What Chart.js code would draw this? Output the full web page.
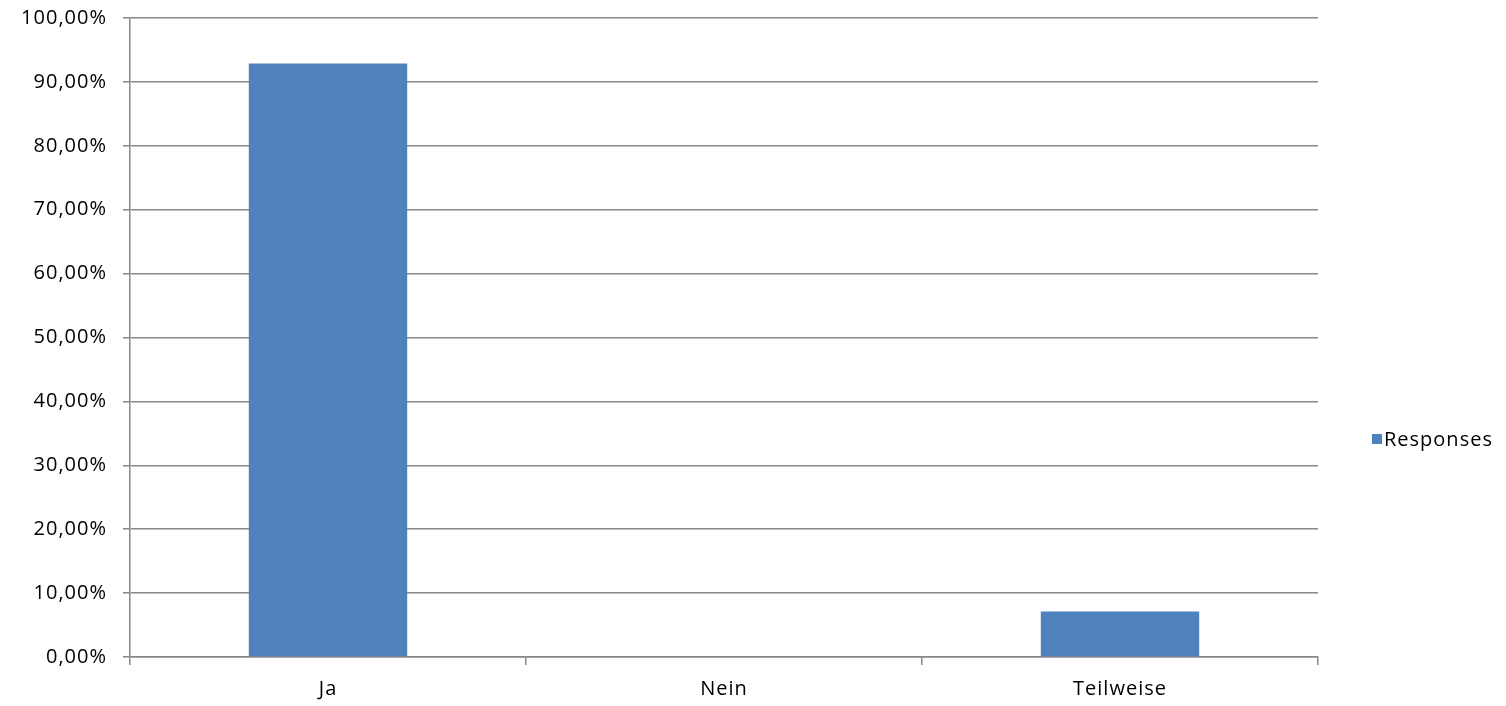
<!DOCTYPE html>
<html>
<head>
<meta charset="utf-8">
<script src="https://cdn.jsdelivr.net/npm/chart.js@4.4.1/dist/chart.umd.min.js"></script>
<style>
  html, body { margin: 0; padding: 0; background: #ffffff; }
  #wrap { width: 1506px; height: 706px; }
</style>
</head>
<body>
<div id="wrap"><canvas id="responsesChart" width="1506" height="706"></canvas></div>
<script>
// Chart data
var categories = ['Ja', 'Nein', 'Teilweise'];
var responses = [92.86, 0, 7.14];
var seriesLabel = 'Responses';
var yTicks = { min: 0, max: 100, step: 10 };

var barColor = '#4F81BD';
var gridColor = '#888888';
var fontFamily = '"Open Sans", "Liberation Sans", sans-serif';
var fontSize = 20;
var spacing = '1px';

// the original text is set a little loose
var textSpacing = {
    id: 'textSpacing',
    beforeLayout: function (chart) { chart.ctx.letterSpacing = spacing; },
    beforeDraw: function (chart) { chart.ctx.letterSpacing = spacing; }
};

// Legend drawn on the right, like the original spreadsheet chart
var sideLegend = {
    id: 'sideLegend',
    afterDraw: function (chart) {
        var ctx = chart.ctx;
        var ds = chart.data.datasets[0];
        ctx.save();
        ctx.fillStyle = ds.backgroundColor;
        ctx.fillRect(1372, 434, 10, 10);
        ctx.fillStyle = '#000000';
        ctx.font = fontSize + 'px ' + fontFamily;
        ctx.letterSpacing = spacing;
        ctx.textBaseline = 'middle';
        ctx.textAlign = 'left';
        ctx.fillText(ds.label, 1384, 440);
        ctx.restore();
    }
};

new Chart(document.getElementById('responsesChart'), {
    type: 'bar',
    data: {
        labels: categories,
        datasets: [{
            label: seriesLabel,
            data: responses,
            backgroundColor: barColor,
            borderWidth: 0,
            categoryPercentage: 1.0,
            barPercentage: 0.4
        }]
    },
    options: {
        responsive: false,
        animation: false,
        layout: {
            padding: { top: 18, right: 188, left: 0, bottom: 0 }
        },
        plugins: {
            legend: { display: false },
            tooltip: { enabled: false }
        },
        scales: {
            y: {
                min: yTicks.min,
                max: yTicks.max,
                afterFit: function (scale) {
                    scale.width = 130;
                    scale.paddingTop = 0;
                    scale.paddingBottom = 0;
                },
                ticks: {
                    stepSize: yTicks.step,
                    color: '#000000',
                    padding: 16,
                    font: { size: fontSize, family: fontFamily },
                    callback: function (v) {
                        return v.toFixed(2).replace('.', ',') + '%';
                    }
                },
                grid: {
                    color: gridColor,
                    lineWidth: 1.5,
                    tickLength: 7
                },
                border: { color: gridColor, width: 1.5 }
            },
            x: {
                afterFit: function (scale) { scale.height = 49; },
                ticks: {
                    color: '#000000',
                    padding: 12,
                    font: { size: fontSize, family: fontFamily }
                },
                grid: {
                    offset: true,
                    drawOnChartArea: false,
                    color: gridColor,
                    lineWidth: 1.5,
                    tickLength: 8
                },
                border: { color: gridColor, width: 1.5 }
            }
        }
    },
    plugins: [textSpacing, sideLegend]
});
</script>
</body>
</html>
